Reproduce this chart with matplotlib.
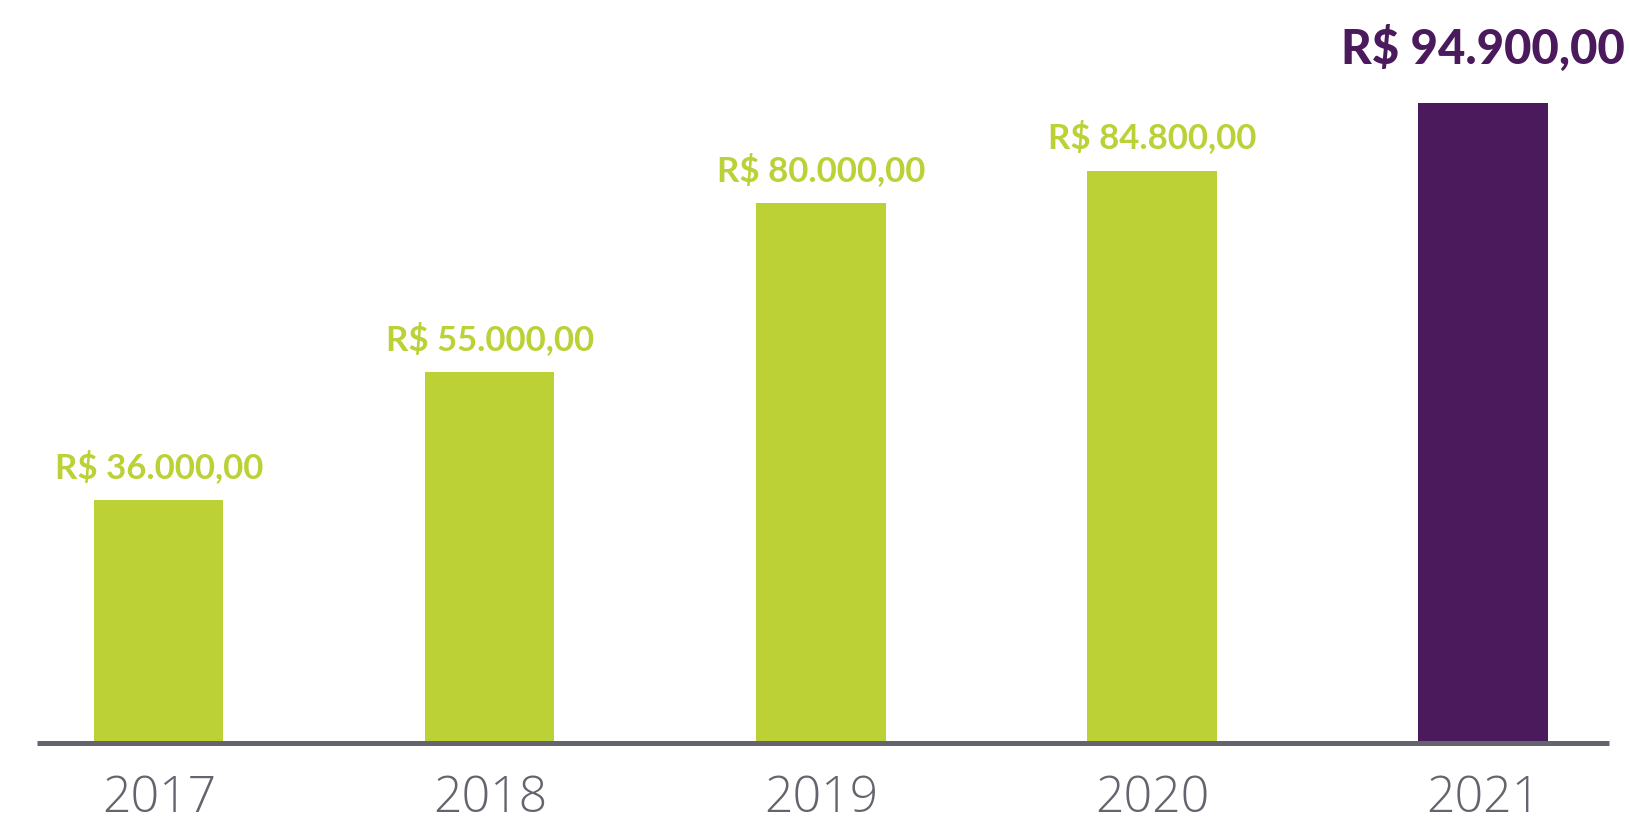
import matplotlib.pyplot as plt

years = ["2017", "2018", "2019", "2020", "2021"]
values = [36000, 55000, 80000, 84800, 94900]
labels = ["R$ 36.000,00", "R$ 55.000,00", "R$ 80.000,00", "R$ 84.800,00", "R$ 94.900,00"]

green = "#bbd135"
purple = "#4a1a5c"
gray = "#65646e"
colors = [green, green, green, green, purple]

fig = plt.figure(figsize=(16.3, 8.22), dpi=100)
ax = fig.add_axes([0, 0, 1, 1])
x = list(range(len(years)))

ax.bar(x, values, width=0.39, color=colors, zorder=2)
ax.hlines(0, -0.369, 4.381, color=gray, lw=3.6, zorder=3)

for i, (v, lab) in enumerate(zip(values, labels)):
    if i == len(values) - 1:
        ax.annotate(lab, (i, v), xytext=(0, 28), textcoords="offset points",
                    ha="center", va="baseline", color=purple,
                    fontsize=34, fontweight="black", family="Lato")
    else:
        ax.annotate(lab, (i, v), xytext=(0, 16), textcoords="offset points",
                    ha="center", va="baseline", color=green,
                    fontsize=25, fontweight="bold", family="Lato")
    # years in a lighter face
    ax.annotate(years[i], (i, 0), xytext=(0, -50), textcoords="offset points",
                ha="center", va="baseline", color=gray,
                fontsize=36, fontweight="light", family="Open Sans")

ax.set_xlim(-0.48, 4.444)
ax.set_ylim(-11700, 110100)
ax.axis("off")

fig.savefig("out.png", dpi=100)
